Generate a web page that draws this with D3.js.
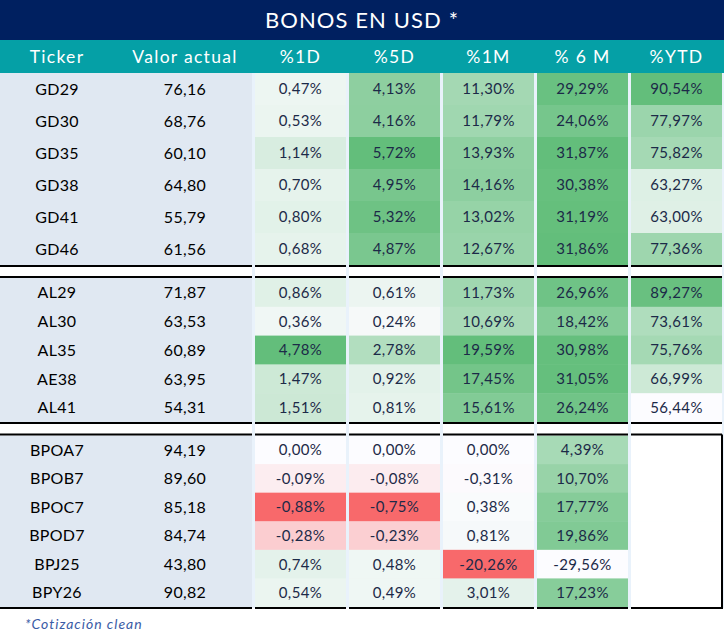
<!DOCTYPE html>
<html>
<head>
<meta charset="utf-8">
<script src="https://cdn.jsdelivr.net/npm/d3@7"></script>
<style>
  html, body { margin: 0; padding: 0; background: #ffffff; }
  svg { display: block; }
  text { font-family: "Lato", "Noto Sans", sans-serif; }
</style>
</head>
<body>
<svg id="chart" width="724" height="639"></svg>
<script>
// ---------- data ----------
const title = "BONOS EN USD *";
const footnote = "*Cotización clean";
const headers = ["Ticker", "Valor actual", "%1D", "%5D", "%1M", "% 6 M", "%YTD"];
const metricKeys = ["d1", "d5", "m1", "m6", "ytd"];
const groupSizes = [6, 5, 6];
const tickers = ["GD29","GD30","GD35","GD38","GD41","GD46",
                 "AL29","AL30","AL35","AE38","AL41",
                 "BPOA7","BPOB7","BPOC7","BPOD7","BPJ25","BPY26"];
const valorActual = [76.16,68.76,60.10,64.80,55.79,61.56,
                     71.87,63.53,60.89,63.95,54.31,
                     94.19,89.60,85.18,84.74,43.80,90.82];
const pct1D = [0.47,0.53,1.14,0.70,0.80,0.68,
               0.86,0.36,4.78,1.47,1.51,
               0.00,-0.09,-0.88,-0.28,0.74,0.54];
const pct5D = [4.13,4.16,5.72,4.95,5.32,4.87,
               0.61,0.24,2.78,0.92,0.81,
               0.00,-0.08,-0.75,-0.23,0.48,0.49];
const pct1M = [11.30,11.79,13.93,14.16,13.02,12.67,
               11.73,10.69,19.59,17.45,15.61,
               0.00,-0.31,0.38,0.81,-20.26,3.01];
const pct6M = [29.29,24.06,31.87,30.38,31.19,31.86,
               26.96,18.42,30.98,31.05,26.24,
               4.39,10.70,17.77,19.86,-29.56,17.23];
const pctYTD = [90.54,77.97,75.82,63.27,63.00,77.36,
                89.27,73.61,75.76,66.99,56.44,
                null,null,null,null,null,null];

const metricValues = { d1: pct1D, d5: pct5D, m1: pct1M, m6: pct6M, ytd: pctYTD };
// colour-scale type per column: 3-colour (red/white/green around 0) or 2-colour (white->green)
const scaleType = { d1: "diverging", d5: "diverging", m1: "diverging", m6: "sequential", ytd: "sequential" };

// ---------- style ----------
const W = 724, H = 639;
const C = {
  navy: "#002060", teal: "#05a0a6", leftBg: "#e0e8f2", gap: "#e9f2fb",
  red: "#f8696b", white: "#fcfcff", green: "#63be7b",
  valText: "#1c2a48", black: "#000000", foot: "#3a5ca6"
};

const svg = d3.select("#chart");
const locale = d3.formatLocale({ decimal: ",", thousands: ".", grouping: [3], currency: ["", ""], minus: "-" });
const f2 = locale.format(".2f");

// layout
const titleH = 40, headerTop = 40, headerBottom = 73;
const leftX = 0, leftW = 252;
const tickerX = 57, valorX = 185;

// metric columns band scale
const x = d3.scaleBand().domain(metricKeys).range([253.5, 723.5])
  .paddingInner(3 / 94).paddingOuter(1.5 / 94);

// group vertical ranges
const groupRanges = [[73, 265], [278, 422], [435.5, 607]];
let offset = 0;
const rows = [];
groupSizes.forEach((n, gi) => {
  const idx = d3.range(offset, offset + n);
  const y = d3.scaleBand().domain(idx).range(groupRanges[gi]);
  idx.forEach(i => rows.push({ i, g: gi, y0: y(i), h: y.bandwidth() }));
  offset += n;
});

// colour scales
const colorScales = {};
metricKeys.forEach(k => {
  const vals = metricValues[k].filter(v => v !== null);
  const [mn, mx] = d3.extent(vals);
  colorScales[k] = scaleType[k] === "diverging"
    ? d3.scaleLinear().domain([mn, 0, mx]).range([C.red, C.white, C.green]).interpolate(d3.interpolateRgb)
    : d3.scaleLinear().domain([mn, mx]).range([C.white, C.green]).interpolate(d3.interpolateRgb);
});

// background column gaps (light blue)
svg.append("rect").attr("x", leftW).attr("y", headerBottom).attr("width", W - leftW)
  .attr("height", 608 - headerBottom).attr("fill", C.gap);

// title band
svg.append("rect").attr("x", 0).attr("y", 0).attr("width", W).attr("height", titleH).attr("fill", C.navy);
svg.append("text").attr("x", W / 2).attr("y", 20).attr("dy", "0.36em")
  .attr("text-anchor", "middle").attr("fill", "#fff").attr("font-size", 22)
  .attr("letter-spacing", 1.1).text(title);

// header band
svg.append("rect").attr("x", 0).attr("y", headerTop).attr("width", W).attr("height", headerBottom - headerTop).attr("fill", C.teal);
const headerX = [tickerX, valorX].concat(metricKeys.map(k => x(k) + x.bandwidth() / 2));
svg.selectAll("text.hdr").data(headers).join("text").attr("class", "hdr")
  .attr("x", (d, i) => headerX[i]).attr("y", (headerTop + headerBottom) / 2).attr("dy", "0.36em")
  .attr("text-anchor", "middle").attr("fill", "#fff").attr("font-size", 17.5)
  .attr("letter-spacing", 1.3).text(d => d);

// left block per group
groupRanges.forEach(r => {
  svg.append("rect").attr("x", leftX).attr("y", r[0]).attr("width", leftW).attr("height", r[1] - r[0]).attr("fill", C.leftBg);
});
// white separators between groups
[[265, 278], [422, 435.5]].forEach(s => {
  metricKeys.forEach(k => {
    svg.append("rect").attr("x", x(k)).attr("y", s[0]).attr("width", x.bandwidth()).attr("height", s[1] - s[0]).attr("fill", "#fff");
  });
});

// metric cells
const cells = [];
rows.forEach(r => metricKeys.forEach(k => cells.push({ ...r, k, v: metricValues[k][r.i] })));
svg.selectAll("rect.cell").data(cells).join("rect").attr("class", "cell")
  .attr("x", d => x(d.k)).attr("y", d => d.y0).attr("width", x.bandwidth()).attr("height", d => d.h + 0.5)
  .attr("fill", d => d.v === null ? "#ffffff" : colorScales[d.k](d.v));
svg.selectAll("text.cell").data(cells.filter(d => d.v !== null)).join("text").attr("class", "cell")
  .attr("x", d => x(d.k) + x.bandwidth() / 2).attr("y", d => d.y0 + d.h / 2).attr("dy", "0.36em")
  .attr("text-anchor", "middle").attr("fill", C.valText).attr("font-size", 15)
  .attr("letter-spacing", 0.4).text(d => f2(d.v) + "%");

// ticker and value text
svg.selectAll("text.tk").data(rows).join("text").attr("class", "tk")
  .attr("x", tickerX).attr("y", d => d.y0 + d.h / 2).attr("dy", "0.36em")
  .attr("text-anchor", "middle").attr("fill", C.black).attr("font-size", 16)
  .attr("letter-spacing", 0.3).text(d => tickers[d.i]);
svg.selectAll("text.va").data(rows).join("text").attr("class", "va")
  .attr("x", valorX).attr("y", d => d.y0 + d.h / 2).attr("dy", "0.36em")
  .attr("text-anchor", "middle").attr("fill", C.black).attr("font-size", 16)
  .attr("letter-spacing", 0.3).text(d => f2(valorActual[d.i]));

// black border lines (per cell, broken at gaps)
const segs = [[leftX, leftW]].concat(metricKeys.map(k => [x(k), x(k) + x.bandwidth()]));
[266, 277, 423, 434.5, 608].forEach(yy => {
  segs.forEach(s => {
    svg.append("line").attr("x1", s[0]).attr("x2", s[1]).attr("y1", yy).attr("y2", yy)
      .attr("stroke", C.black).attr("stroke-width", 2);
  });
});
// right border of empty YTD block in last group
svg.append("line").attr("x1", x("ytd") + x.bandwidth()).attr("x2", x("ytd") + x.bandwidth())
  .attr("y1", 434.5).attr("y2", 609).attr("stroke", C.black).attr("stroke-width", 2);

// footnote
svg.append("text").attr("x", 25).attr("y", 624).attr("dy", "0.36em")
  .attr("fill", C.foot).attr("font-size", 14).attr("font-style", "italic")
  .attr("letter-spacing", 1).text(footnote);
</script>
</body>
</html>
